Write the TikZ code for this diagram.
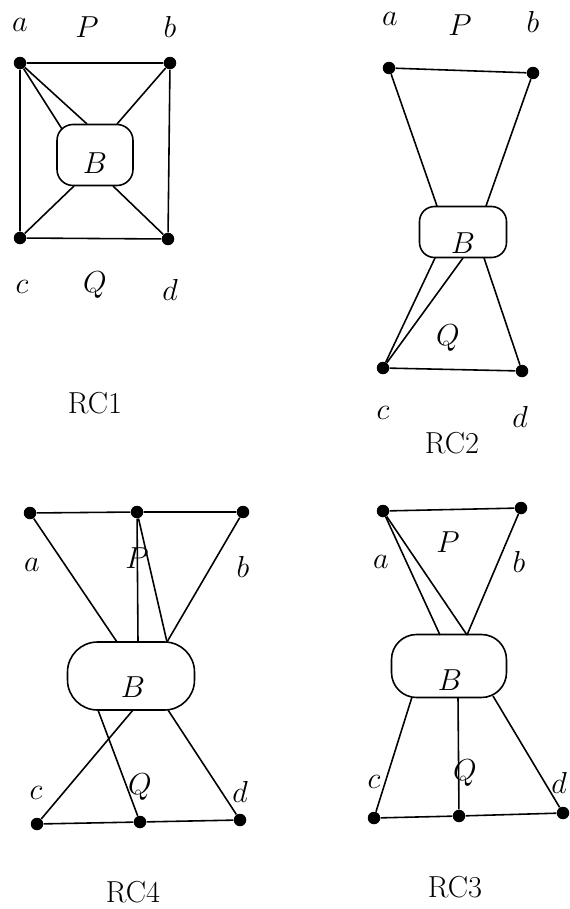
\documentclass[tikz,border=0pt]{standalone}
\usetikzlibrary{calc}
\tikzset{
	dotnode/.style={
			circle,
			fill=black,
			minimum size=2.5mm,
			inner sep=0pt
		},
	blocknode/.style={
			draw=black,
			line width=0.9pt,
			fill=white,
			rounded corners=#1,
			inner sep=0pt
		},
	blocknode/.default=3mm,
	labelnode/.style={
			font=\LARGE,
			inner sep=0pt
		},
	edgeline/.style={
			line width=0.9pt
		}
}
\begin{document}
\begin{tikzpicture}[x=0.02cm, y=-0.02cm]
\useasboundingbox (0,0) rectangle (569,909);

% RC1
\node[blocknode=3.2mm, minimum width=1.52cm, minimum height=1.22cm] (B1) at (95,155) {};
\node[dotnode] (a1) at (20,63) {};
\node[dotnode] (b1) at (170,63) {};
\node[dotnode] (c1) at (20,238) {};
\node[dotnode] (d1) at (168,239) {};
\coordinate (B1w) at (62,129);
\coordinate (B1n) at (87,124);
\coordinate (B1e) at (117,124);
\coordinate (B1sw) at (74,186);
\coordinate (B1se) at (113,186);

\draw[edgeline] (a1) -- (b1) -- (d1) -- (c1) -- (a1);
\draw[edgeline] (a1) -- (B1w);
\draw[edgeline] (a1) -- (B1n);
\draw[edgeline] (b1) -- (B1e);
\draw[edgeline] (c1) -- (B1sw);
\draw[edgeline] (d1) -- (B1se);

\node[labelnode] (la1) at (20,25) {$a$};
\node[labelnode] (lp1) at (87,27) {$P$};
\node[labelnode] (lb1) at (170,27) {$b$};
\node[labelnode] (lB1) at (95,163) {$B$};
\node[labelnode] (lc1) at (22,287) {$c$};
\node[labelnode] (lq1) at (95,285) {$Q$};
\node[labelnode] (ld1) at (170,290) {$d$};
\node[labelnode] (rc1) at (95,403) {RC1};

% RC2
\node[blocknode=3mm, minimum width=1.74cm, minimum height=1.02cm] (B2) at (463,232) {};
\node[dotnode] (a2) at (389,68) {};
\node[dotnode] (b2) at (533,73) {};
\node[dotnode] (c2) at (383,368) {};
\node[dotnode] (d2) at (522,371) {};
\coordinate (B2nw) at (437,206);
\coordinate (B2ne) at (486,206);
\coordinate (B2sw) at (435,258);
\coordinate (B2s) at (463,258);
\coordinate (B2se) at (484,258);

\draw[edgeline] (a2) -- (b2);
\draw[edgeline] (c2) -- (d2);
\draw[edgeline] (a2) -- (B2nw);
\draw[edgeline] (b2) -- (B2ne);
\draw[edgeline] (c2) -- (B2sw);
\draw[edgeline] (c2) -- (B2s);
\draw[edgeline] (d2) -- (B2se);

\node[labelnode] (la2) at (390,19) {$a$};
\node[labelnode] (lp2) at (460,25) {$P$};
\node[labelnode] (lb2) at (533,22) {$b$};
\node[labelnode] (lB2) at (463,243) {$B$};
\node[labelnode] (lq2) at (448,338) {$Q$};
\node[labelnode] (lc2) at (383,413) {$c$};
\node[labelnode] (ld2) at (520,417) {$d$};
\node[labelnode] (rc2) at (452,443) {RC2};

% RC4
\node[blocknode=6mm, minimum width=2.54cm, minimum height=1.36cm] (B4) at (131,676) {};
\node[dotnode] (a4) at (30,513) {};
\node[dotnode] (p4) at (137,512) {};
\node[dotnode] (b4) at (243,512) {};
\node[dotnode] (c4) at (37,824) {};
\node[dotnode] (q4) at (140,822) {};
\node[dotnode] (d4) at (240,820) {};
\coordinate (B4nw) at (117,642);
\coordinate (B4n) at (138,642);
\coordinate (B4ne) at (167,642);
\coordinate (B4sw) at (98,710);
\coordinate (B4s) at (133,710);
\coordinate (B4se) at (168,710);

\draw[edgeline] (a4) -- (p4) -- (b4);
\draw[edgeline] (c4) -- (q4) -- (d4);
\draw[edgeline] (a4) -- (B4nw);
\draw[edgeline] (p4) -- (B4n);
\draw[edgeline] (p4) -- (B4ne);
\draw[edgeline] (b4) -- (B4ne);
\draw[edgeline] (c4) -- (B4s);
\draw[edgeline] (q4) -- (B4sw);
\draw[edgeline] (d4) -- (B4se);

\node[labelnode] (la4) at (32,565) {$a$};
\node[labelnode] (lp4) at (137,558) {$P$};
\node[labelnode] (lb4) at (243,567) {$b$};
\node[labelnode] (lB4) at (133,687) {$B$};
\node[labelnode] (lc4) at (36,793) {$c$};
\node[labelnode] (lq4) at (140,787) {$Q$};
\node[labelnode] (ld4) at (240,792) {$d$};
\node[labelnode] (rc4) at (133,892) {RC4};

% RC3
\node[blocknode=5mm, minimum width=2.3cm, minimum height=1.26cm] (B3) at (449,666) {};
\node[dotnode] (a3) at (383,511) {};
\node[dotnode] (b3) at (521,508) {};
\node[dotnode] (c3) at (374,818) {};
\node[dotnode] (q3) at (459,816) {};
\node[dotnode] (d3) at (563,813) {};
\coordinate (B3nw) at (440,635);
\coordinate (B3ne) at (467,635);
\coordinate (B3sw) at (412,697);
\coordinate (B3s) at (458,697);
\coordinate (B3se) at (493,696);

\draw[edgeline] (a3) -- (b3);
\draw[edgeline] (c3) -- (q3) -- (d3);
\draw[edgeline] (a3) -- (B3nw);
\draw[edgeline] (a3) -- (B3ne);
\draw[edgeline] (b3) -- (B3ne);
\draw[edgeline] (c3) -- (B3sw);
\draw[edgeline] (q3) -- (B3s);
\draw[edgeline] (d3) -- (B3se);

\node[labelnode] (lp3) at (448,542) {$P$};
\node[labelnode] (la3) at (381,562) {$a$};
\node[labelnode] (lb3) at (519,562) {$b$};
\node[labelnode] (lB3) at (450,680) {$B$};
\node[labelnode] (lc3) at (374,782) {$c$};
\node[labelnode] (lq3) at (465,773) {$Q$};
\node[labelnode] (ld3) at (559,783) {$d$};
\node[labelnode] (rc3) at (455,887) {RC3};

\end{tikzpicture}
\end{document}
